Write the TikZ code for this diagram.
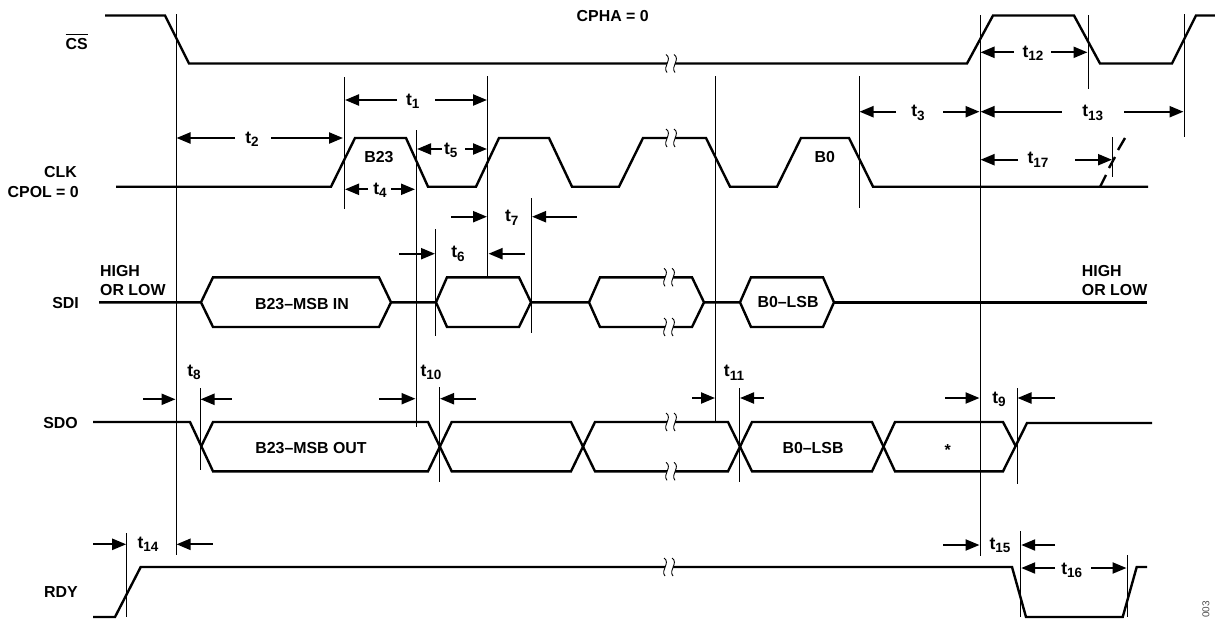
\documentclass[tikz,border=0pt]{standalone}
\usepackage{fontspec}
\setmainfont{Liberation Sans}
\usetikzlibrary{arrows.meta}
\newcommand{\tname}[1]{t\raisebox{-3.5pt}{\fontsize{13.5}{13.5}\selectfont #1}}
\tikzset{
  sig/.style={line width=2.4pt,line join=miter,line cap=butt},
  thin line/.style={line width=1.1pt},
  dim/.style={line width=2.2pt,-{Stealth[length=14pt,width=11pt,inset=0pt]}},
  lab/.style={font=\fontsize{15.9}{19}\selectfont\bfseries,inner sep=0pt,anchor=base},
  tlab/.style={font=\fontsize{17.5}{19}\selectfont\bfseries,inner sep=0pt,anchor=base},
  brk/.pic={
    \fill[white] (-4,-9) .. controls (3,-4) and (-8,3) .. (-3,9) -- (5,9) .. controls (0,3) and (11,-4) .. (4,-9) -- cycle;
    \draw[line width=.9pt] (-4,-9) .. controls (3,-4) and (-8,3) .. (-3,9);
    \draw[line width=.9pt] (4,-9) .. controls (11,-4) and (0,3) .. (5,9);
  }
}
\begin{document}
\begin{tikzpicture}[x=1pt,y=-1pt]
\useasboundingbox (0,0) rectangle (1215,619);
% waveforms
\begin{scope}[sig]
    \draw (105,15.5) -- (165,15.5) -- (189,63.5) -- (967,63.5) -- (993,15.5) -- (1074,15.5) -- (1100,63.5) -- (1172,63.5) -- (1196,15.5) -- (1215,15.5);
    \draw (116,186.7) -- (331,186.7) -- (355,138) -- (406,138) -- (428,186.7) -- (476,186.7) -- (499,138) -- (549,138) -- (572,186.7) -- (619,186.7) -- (643,138) -- (706,138) -- (730,186.7) -- (777,186.7) -- (801,138) -- (849,138) -- (873,186.7) -- (1148,186.7);
    \draw (1100,187) -- (1106,175) (1109,168) -- (1115,157) (1118,150) -- (1125,138);
    % SDI
    \draw (99,302.3) -- (201,302.3) -- (213,277.3) -- (379,277.3) -- (391,302.3) -- (379,327) -- (213,327) -- (201,302.3);
    \draw (391,302.3) -- (436,302.3) -- (447,277.3) -- (519,277.3) -- (531,302.3) -- (519,327) -- (447,327) -- (436,302.3);
    \draw (531,302.3) -- (589,302.3) -- (600,277.3) -- (692,277.3) -- (704,302.3) -- (692,327) -- (600,327) -- (589,302.3);
    \draw (704,302.3) -- (740,302.3) -- (751,277.3) -- (823,277.3) -- (834,302.3) -- (823,327) -- (751,327) -- (740,302.3);
    \draw (834,302.3) -- (1147,302.3);
    % SDO
    \draw (93,422) -- (190,422) -- (213,471.3) -- (428,471.3) -- (451.7,422) -- (571,422) -- (595,471.3) -- (728,471.3) -- (752,422) -- (872,422) -- (895,471.3) -- (1003,471.3) -- (1027,423) -- (1152,423);
    \draw (1016,446.7) -- (1003,422) -- (895,422) -- (872,471.3) -- (752,471.3) -- (728,422) -- (595,422) -- (571,471.3) -- (451.7,471.3) -- (428,422) -- (213,422) -- (201,446.7);
    % RDY
    \draw (93,617) -- (115,617) -- (140.7,567) -- (1012,567) -- (1026,617) -- (1122.7,617) -- (1136.7,567) -- (1147,567);
\end{scope}
% breaks
\path (670,63.5) pic {brk} (670,138) pic {brk} (668,277.3) pic {brk} (668,327) pic {brk}
      (670,422) pic {brk} (670,471.3) pic {brk} (668,567) pic {brk};
% thin verticals
\begin{scope}[thin line]
    \draw (176.5,14) -- (176.5,555);
    \draw (344.5,77) -- (344.5,209);
    \draw (487.5,76) -- (487.5,277);
    \draw (416.5,130) -- (416.5,427);
    \draw (435.5,229) -- (435.5,336);
    \draw (531.5,198) -- (531.5,333);
    \draw (715.5,76) -- (715.5,422);
    \draw (859.5,76) -- (859.5,208);
    \draw (980.5,15) -- (980.5,556);
    \draw (1088.5,15) -- (1088.5,89);
    \draw (1184.5,14) -- (1184.5,137);
    \draw (1112.5,137) -- (1112.5,177);
    \draw (200.5,388) -- (200.5,470);
    \draw (439.5,387) -- (439.5,482);
    \draw (739.5,388) -- (739.5,482);
    \draw (1017.5,388) -- (1017.5,483.6);
    \draw (126.5,533) -- (126.5,617);
    \draw (1020.5,531) -- (1020.5,617);
    \draw (1127.5,555) -- (1127.5,617);
\end{scope}
% timing arrows
\begin{scope}[dim]
    \draw (235,138) -- (176.5,138);      \draw (271,138) -- (343,138);
    \draw (397,100) -- (345,100);        \draw (435,100) -- (487,100);
    \draw (441.7,149) -- (417,149);      \draw (465,149) -- (487,149);
    \draw (368,189.3) -- (345,189.3);    \draw (391,189.3) -- (415,189.3);
    \draw (451,216.7) -- (487,216.7);    \draw (576.7,216.7) -- (532,216.7);
    \draw (399,253.7) -- (435,253.7);    \draw (525,253.7) -- (488.5,253.7);
    \draw (896,111.7) -- (859.5,111.7);  \draw (943,111.7) -- (979.5,111.7);
    \draw (1061.7,111.7) -- (980.5,111.7); \draw (1124,111.7) -- (1183.5,111.7);
    \draw (1014,52.3) -- (980.5,52.3);   \draw (1051,52.3) -- (1087.5,52.3);
    \draw (1018,159.7) -- (980.5,159.7); \draw (1075,159.7) -- (1112,159.7);
    \draw (143,399.3) -- (175.5,399.3);  \draw (231.7,399.3) -- (200.5,399.3);
    \draw (379,398.7) -- (415.5,398.7);  \draw (475.7,398.7) -- (440,398.7);
    \draw (692,398) -- (715,398);        \draw (764,398) -- (740,398);
    \draw (945,398) -- (979.5,398);      \draw (1055,398) -- (1017.5,398);
    \draw (93,544.3) -- (126.2,544.3);   \draw (212.7,544.3) -- (176.5,544.3);
    \draw (943,545) -- (979.5,545);      \draw (1055,545) -- (1021.2,545);
    \draw (1055,568) -- (1021.2,568);    \draw (1091,568) -- (1126.5,568);
\end{scope}
% labels
\begin{scope}[every node/.style={tlab}]
    \node (t1) at (412.7,105) {\tname{1}};
    \node (t2) at (252,143.3) {\tname{2}};
    \node (t3) at (918,116.7) {\tname{3}};
    \node (t4) at (380,194) {\tname{4}};
    \node (t5) at (450.7,154) {\tname{5}};
    \node (t6) at (458,257.5) {\tname{6}};
    \node (t7) at (511.7,221.7) {\tname{7}};
    \node (t8) at (194,376) {\tname{8}};
    \node (t9) at (999,403) {\tname{9}};
    \node (t10) at (431,376) {\tname{10}};
    \node (t11) at (734,376.7) {\tname{11}};
    \node (t12) at (1033,57) {\tname{12}};
    \node (t13) at (1092.7,116.7) {\tname{13}};
    \node (t14) at (148,548) {\tname{14}};
    \node (t15) at (1000,549) {\tname{15}};
    \node (t16) at (1071.7,574) {\tname{16}};
    \node (t17) at (1038,163.5) {\tname{17}};
\end{scope}
\begin{scope}[every node/.style={lab}]
    \node (cpha) at (612.7,21) {CPHA = 0};
    \node[anchor=base east] (cs) at (88,49) {$\overline{\hbox{\rule{0pt}{13pt}CS}}$};
    \node[anchor=base east] (clk) at (77,177) {CLK};
    \node[anchor=base east] (cpol) at (79,197) {CPOL = 0};
    \node[anchor=base east] (sdi) at (79,308.7) {SDI};
    \node[anchor=base east] (sdo) at (78,428) {SDO};
    \node[anchor=base east] (rdy) at (78,597.7) {RDY};
    \node[anchor=base west] (highA) at (100,276) {HIGH};
    \node[anchor=base west] (lowA) at (100,295) {OR LOW};
    \node[anchor=base west] (highB) at (1081.7,276) {HIGH};
    \node[anchor=base west] (lowB) at (1081.7,295) {OR LOW};
    \node (bA) at (379,162.7) {B23};
    \node (bB) at (824.7,162.7) {B0};
    \node (msbin) at (302,309) {B23--MSB IN};
    \node (lsbin) at (788,307.7) {B0--LSB};
    \node (msbout) at (311,453) {B23--MSB OUT};
    \node (lsbout) at (813,453) {B0--LSB};
    \node (star) at (947.7,455) {*};
\end{scope}
\node[font=\fontsize{10}{10}\selectfont,text=black!70,rotate=90,inner sep=0pt] (fignum) at (1206,609.5) {003};
\end{tikzpicture}
\end{document}
